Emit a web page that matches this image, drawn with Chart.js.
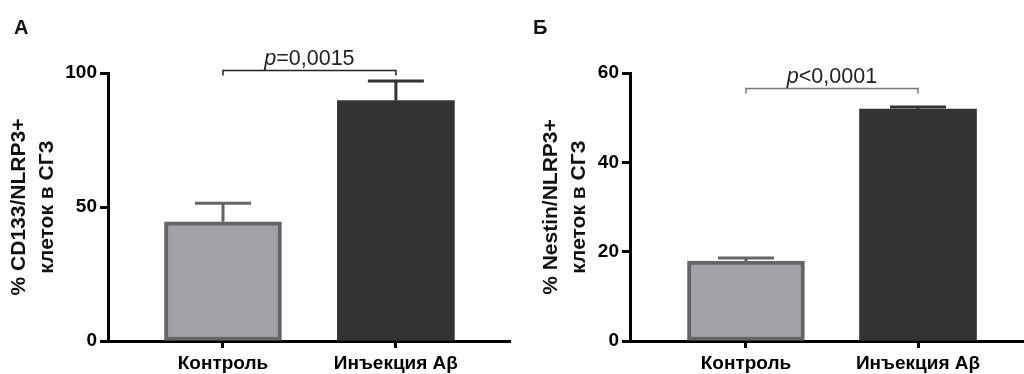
<!DOCTYPE html>
<html>
<head>
<meta charset="utf-8">
<script src="https://cdn.jsdelivr.net/npm/chart.js@4"></script>
<style>
  body { margin: 0; background: #fff; }
  #wrap { position: relative; width: 1024px; height: 374px; overflow: hidden; }
  canvas { position: absolute; top: 0; }
  .panel-letter { position: absolute; font: bold 20px 'Liberation Sans', Arial, sans-serif; color: #111; }
</style>
</head>
<body>
<div id="wrap">
  <canvas id="chart-cd133" width="512" height="374" style="left:0"></canvas>
  <canvas id="chart-nestin" width="512" height="374" style="left:512px"></canvas>
  <div class="panel-letter" style="left:14px; top:16px">А</div>
  <div class="panel-letter" style="left:533px; top:16px">Б</div>
</div>
<script>
var groups = ['Контроль', 'Инъекция Aβ'];
var cd133Mean = [44.5, 89.7];
var cd133Sem = [6.9, 7.3];
var cd133Ticks = [0, 50, 100];
var nestinMean = [17.9, 51.9];
var nestinSem = [0.7, 0.5];
var nestinTicks = [0, 20, 40, 60];
var cd133P = ['p', '=0,0015'];
var nestinP = ['p', '<0,0001'];

var fontFamily = "'Liberation Sans', Arial, sans-serif";
var fillColors = ['#a2a1a6', '#333333'];
var edgeColors = ['#656565', '#333333'];

// error bars (SEM) + significance bracket
function overlayPlugin(sem, bracketValue, bracketColor, pText) {
    return {
        id: 'overlay',
        beforeDatasetsDraw: function (chart) {
            var ctx = chart.ctx, xs = chart.scales.x, ys = chart.scales.y;
            var data = chart.data.datasets[0].data;
            ctx.save();
            ctx.lineWidth = 3;
            data.forEach(function (d, i) {
                var x = xs.getPixelForValue(d.x);
                var top = ys.getPixelForValue(d.y + sem[i]);
                ctx.strokeStyle = edgeColors[i];
                ctx.beginPath();
                ctx.moveTo(x, ys.getPixelForValue(d.y));
                ctx.lineTo(x, top);
                ctx.moveTo(x - 28, top);
                ctx.lineTo(x + 28, top);
                ctx.stroke();
            });
            ctx.restore();
        },
        afterDraw: function (chart) {
            var ctx = chart.ctx, xs = chart.scales.x, ys = chart.scales.y;
            var x1 = xs.getPixelForValue(1), x2 = xs.getPixelForValue(2);
            var yb = Math.round(ys.getPixelForValue(bracketValue)) + 0.5;
            ctx.save();
            ctx.strokeStyle = bracketColor;
            ctx.lineWidth = 1.5;
            ctx.beginPath();
            ctx.moveTo(x1, yb + 5);
            ctx.lineTo(x1, yb);
            ctx.lineTo(x2, yb);
            ctx.lineTo(x2, yb + 5);
            ctx.stroke();

            var italic = 'italic 21.5px ' + fontFamily, normal = '21.5px ' + fontFamily;
            ctx.font = italic;
            var w1 = ctx.measureText(pText[0]).width;
            ctx.font = normal;
            var w2 = ctx.measureText(pText[1]).width;
            var sx = (x1 + x2) / 2 - (w1 + w2) / 2;
            ctx.fillStyle = '#222';
            ctx.textBaseline = 'alphabetic';
            ctx.font = italic;
            ctx.fillText(pText[0], sx, yb - 6);
            ctx.font = normal;
            ctx.fillText(pText[1], sx + w1, yb - 6);
            ctx.restore();
        }
    };
}

function makeChart(canvasId, means, sem, yTicks, yTitle, cfg) {
    var el = document.getElementById(canvasId);
    return new Chart(el.getContext('2d'), {
        type: 'bar',
        data: {
            datasets: [{
                data: groups.map(function (g, i) { return { x: i + 1, y: means[i] }; }),
                backgroundColor: fillColors,
                borderColor: edgeColors,
                borderWidth: [4, 0],
                borderSkipped: false,
                barThickness: 117
            }]
        },
        options: {
            responsive: false,
            animation: false,
            layout: { padding: { top: 73, right: cfg.right, left: 0, bottom: 0 } },
            plugins: { legend: { display: false }, tooltip: { enabled: false } },
            scales: {
                x: {
                    type: 'linear',
                    min: cfg.xmin,
                    max: cfg.xmax,
                    offset: false,
                    z: 1,
                    afterBuildTicks: function (s) { s.ticks = groups.map(function (g, i) { return { value: i + 1 }; }); },
                    afterFit: function (s) { s.height = 33; },
                    border: { display: true, color: '#000', width: 3 },
                    grid: { offset: false, drawOnChartArea: false, drawTicks: true, tickLength: 7, tickWidth: 3, color: '#000' },
                    ticks: {
                        padding: 4,
                        color: '#000',
                        font: { family: fontFamily, size: 19, weight: 'bold' },
                        callback: function (v, i) { return groups[i]; }
                    }
                },
                y: {
                    min: yTicks[0],
                    max: yTicks[yTicks.length - 1],
                    z: 1,
                    afterBuildTicks: function (s) { s.ticks = yTicks.map(function (v) { return { value: v }; }); },
                    afterFit: function (s) { s.width = cfg.yWidth; },
                    border: { display: true, color: '#000', width: 3 },
                    grid: { drawOnChartArea: false, drawTicks: true, tickLength: 8, tickWidth: 3, color: '#000' },
                    ticks: {
                        padding: 3,
                        color: '#000',
                        font: { family: fontFamily, size: 19, weight: 'bold' }
                    },
                    title: {
                        display: true,
                        text: yTitle,
                        color: '#111',
                        padding: { top: cfg.titlePad, bottom: 0 },
                        font: { family: fontFamily, size: 21, weight: 'bold', lineHeight: 1.3 }
                    }
                }
            }
        },
        plugins: [overlayPlugin(sem, cfg.bracket, cfg.bracketColor, cfg.pText)]
    });
}

makeChart('chart-cd133', cd133Mean, cd133Sem, cd133Ticks, ['% CD133/NLRP3+', 'клеток в СГЗ'], {
    right: 2, xmin: 0.335, xmax: 2.66, yWidth: 108, titlePad: 6, bracket: 101.1, bracketColor: '#222', pText: cd133P
});
makeChart('chart-nestin', nestinMean, nestinSem, nestinTicks, ['% Nestin/NLRP3+', 'клеток в СГЗ'], {
    right: 0, xmin: 0.326, xmax: 2.616, yWidth: 118, titlePad: 26, bracket: 56.6, bracketColor: '#777', pText: nestinP
});
</script>
</body>
</html>
